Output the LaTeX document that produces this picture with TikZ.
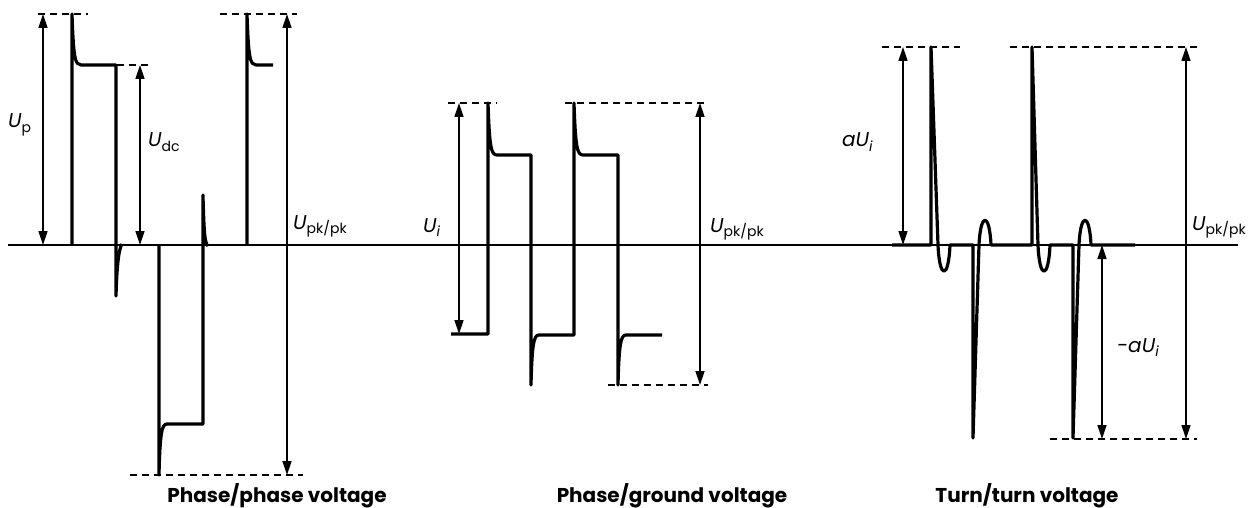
\documentclass[tikz,border=0pt]{standalone}
\usepackage{fontspec}
\setmainfont{Poppins}
\usetikzlibrary{arrows.meta}
\newcommand\subup[1]{\raisebox{-0.22em}{\fontsize{14}{14}\selectfont\upshape #1}}
\newcommand\subit[1]{\raisebox{-0.22em}{\fontsize{14}{14}\selectfont\itshape #1}}
\begin{document}
\begin{tikzpicture}[x=1pt,y=-1pt,
  wave/.style={line width=3.2pt, line join=round},
  axisline/.style={line width=1.5pt},
  dim/.style={line width=1.4pt, {Triangle[length=14pt,width=9pt]}-{Triangle[length=14pt,width=9pt]}},
  guide/.style={line width=1.5pt, dash pattern=on 7pt off 5pt},
  lab/.style={font=\fontsize{20}{22}\selectfont\itshape, inner sep=0pt, anchor=base west},
  ttl/.style={font=\fontsize{20}{24}\selectfont\bfseries, inner sep=0pt, anchor=base}]
\useasboundingbox (0,0) rectangle (1256,508);

% axis
\coordinate (axL) at (8,245);
\coordinate (axR) at (1238,245);
\draw[axisline] (axL) -- (axR);

% ---------- Phase/phase ----------
\draw[guide] (38,14) -- (88,14);
\draw[guide] (117,65) -- (151,65);
\draw[guide] (220,14) -- (297,14);
\draw[guide] (130,475) -- (303,475);

\draw[wave] (72,245) -- (72,14) .. controls (73.5,58) and (75,65) .. (81,65) -- (116,65) -- (116,296)
  .. controls (117,262) and (119,249) .. (122,244);
\draw[wave] (159,245) -- (159,475) .. controls (160,432) and (162,424) .. (167,424) -- (203,424) -- (203,195)
  .. controls (204,236) and (205,243) .. (208,246);
\draw[wave] (247,245) -- (247,14) .. controls (248.5,58) and (250,65) .. (256,65) -- (273,65);

\coordinate (p1a) at (43,14);  \coordinate (p1b) at (43,245);
\coordinate (p2a) at (140,65); \coordinate (p2b) at (140,245);
\coordinate (p3a) at (287,14); \coordinate (p3b) at (287,475);
\draw[dim] (p1a) -- (p1b);
\draw[dim] (p2a) -- (p2b);
\draw[dim] (p3a) -- (p3b);

\node[lab] (lup) at (8,128) {U\subup{p}};
\node[lab] (ludc) at (148,147) {U\subup{dc}};
\node[lab] (lpk1) at (293,229) {U\subup{pk/pk}};
\node[ttl] (t1) at (277,502) {Phase/phase voltage};

% ---------- Phase/ground ----------
\draw[guide] (448,103) -- (497,103);
\draw[guide] (565,103) -- (708,103);
\draw[guide] (608,385) -- (708,385);

\draw[wave] (451,334) -- (488,334) -- (488,103) .. controls (489.5,147) and (491,155) .. (497,155) -- (531,155)
  -- (531,385) .. controls (532,343) and (534,335) .. (539,335) -- (574,335)
  -- (574,103) .. controls (575.5,147) and (577,155) .. (583,155) -- (618,155)
  -- (618,385) .. controls (619,343) and (621,335) .. (626,335) -- (662,335);

\coordinate (g1a) at (459,103); \coordinate (g1b) at (459,334);
\coordinate (g2a) at (700,103); \coordinate (g2b) at (700,385);
\draw[dim] (g1a) -- (g1b);
\draw[dim] (g2a) -- (g2b);

\node[lab] (lui) at (423,232) {U\subit{i}};
\node[lab] (lpk2) at (710,232) {U\subup{pk/pk}};
\node[ttl] (t2) at (672,502) {Phase/ground voltage};

% ---------- Turn/turn ----------
\draw[guide] (882,47) -- (960,47);
\draw[guide] (1010,47) -- (1200,47);
\draw[guide] (1050,439) -- (1197,439);

\draw[wave] (892,245) -- (931,245) -- (931,47) -- (938,245)
  .. controls (939.5,280) and (948.5,280) .. (950,245) -- (973,245)
  -- (973,438) -- (979,245) .. controls (980.5,212) and (989.5,212) .. (991,245)
  -- (1032,245) -- (1032,47) -- (1038,245)
  .. controls (1039.5,280) and (1048.5,280) .. (1050,245) -- (1073,245)
  -- (1073,438) -- (1079,245) .. controls (1080.5,212) and (1089.5,212) .. (1091,245)
  -- (1135,245);

\coordinate (r1a) at (903,47);   \coordinate (r1b) at (903,245);
\coordinate (r2a) at (1102,245); \coordinate (r2b) at (1102,439);
\coordinate (r3a) at (1186,47);  \coordinate (r3b) at (1186,439);
\draw[dim] (r1a) -- (r1b);
\draw[dim] (r2a) -- (r2b);
\draw[dim] (r3a) -- (r3b);

\node[lab] (lau) at (842,147) {aU\subit{i}};
\node[lab] (lmau) at (1117,352) {-aU\subit{i}};
\node[lab] (lpk3) at (1192,230) {U\subup{pk/pk}};
\node[ttl] (t3) at (1027,502) {Turn/turn voltage};
\end{tikzpicture}
\end{document}
